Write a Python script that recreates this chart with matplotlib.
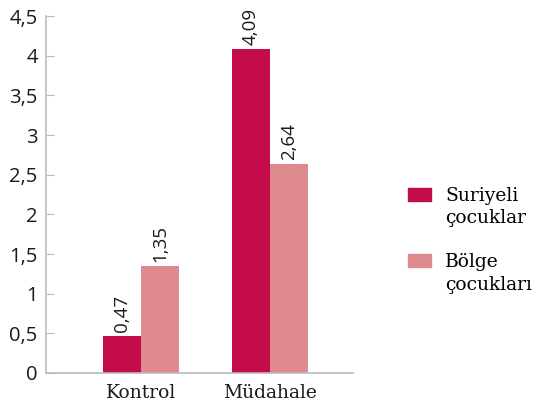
import numpy as np
import matplotlib.pyplot as plt
from matplotlib.patches import Patch

categories = ["Kontrol", "Müdahale"]
series_names = [["Suriyeli", "çocuklar"], ["Bölge", "çocukları"]]
suriyeli = [0.47, 4.09]
bolge = [1.35, 2.64]
yticks = [0, 0.5, 1, 1.5, 2, 2.5, 3, 3.5, 4, 4.5]

colors = ["#C40C4A", "#DF8A8E"]

fig = plt.figure(figsize=(5.37, 4.12), dpi=100)
ax = fig.add_axes([0.0857, 0.0947, 0.571, 0.866])

x = np.arange(len(categories))
w = 0.295
bars1 = ax.bar(x - w / 2, suriyeli, w, color=colors[0])
bars2 = ax.bar(x + w / 2, bolge, w, color=colors[1])

for bars in (bars1, bars2):
    for b in bars:
        h = b.get_height()
        ax.text(b.get_x() + b.get_width() / 2, h + 0.05, f"{h:.2f}".replace(".", ","),
                rotation=90, ha="center", va="bottom", fontsize=13.5, color="#1a1a1a",
                family="Open Sans")

ax.set_xlim(-0.736, 1.643)
ax.set_ylim(0, 4.5)
ax.set_yticks(yticks)
ax.set_yticklabels([f"{t:g}".replace(".", ",") for t in yticks], fontsize=14.5,
                   color="#1a1a1a", family="Open Sans")
ax.set_xticks(x)
ax.set_xticklabels(categories, fontsize=13.5, family="DejaVu Serif", color="#1a1a1a")
ax.tick_params(axis="y", direction="in", length=6, color="#bbbbbb", pad=6)
ax.tick_params(axis="x", length=0, pad=8)
for s in ("top", "right"):
    ax.spines[s].set_visible(False)
for s in ("left", "bottom"):
    ax.spines[s].set_color("#bbbbbb")
    ax.spines[s].set_linewidth(1.2)

# legend: patch next to first line of each two-line label
handles, labels = [], []
for i, (c, name) in enumerate(zip(colors, series_names)):
    if i > 0:
        handles.append(Patch(alpha=0))
        labels.append(" ")
    handles.append(Patch(color=c))
    labels.append(name[0])
    handles.append(Patch(alpha=0))
    labels.append(name[1])
fig.legend(handles, labels, loc="upper left", bbox_to_anchor=(0.76, 1 - 187 / 412),
           frameon=False, prop={"family": "DejaVu Serif", "size": 13.5},
           borderpad=0, borderaxespad=0,
           handlelength=1.22, handleheight=0.7, labelspacing=0.22, handletextpad=0.75)

fig.savefig("out.png", dpi=100)
